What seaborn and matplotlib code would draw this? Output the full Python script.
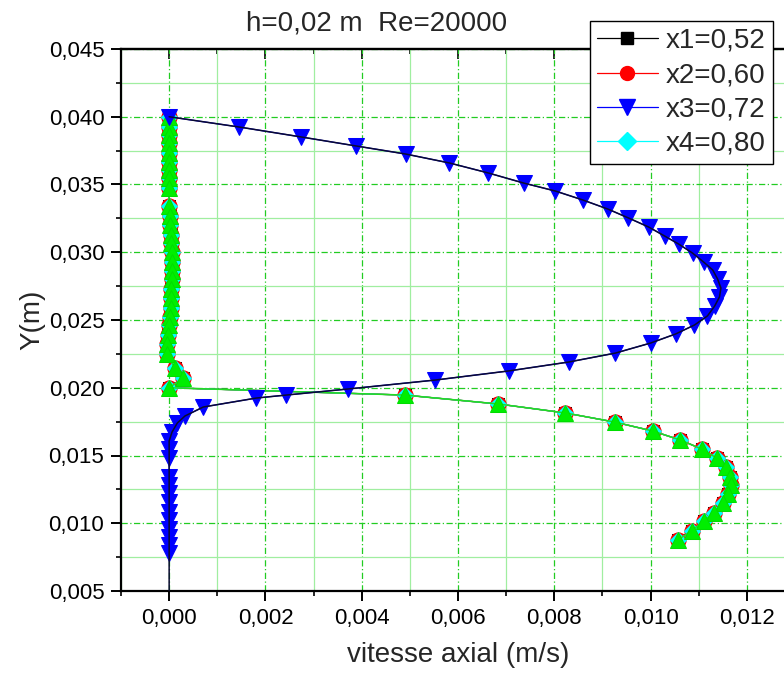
import numpy as np
import pandas as pd
import matplotlib
matplotlib.use("Agg")
import matplotlib.pyplot as plt
from matplotlib.ticker import MultipleLocator, FuncFormatter
from matplotlib.lines import Line2D
import seaborn as sns

# ---------------- data ----------------
# profile shared by x1, x2, x4 and the green series (they overlap)
prof_v = [0.0, 0.0, 0.0, 0.0, 0.0, 0.0, 0.0, 0.0, 0.0,
          0.0, 0.00001, 0.00002, 0.00003, 0.00004, 0.00005, 0.00005, 0.00005, 0.00005,
          0.00004, 0.00004, 0.00003, 0.00002, 0.0, -0.00002, -0.00004, -0.00005,
          0.000125, 0.000285, 0.0,
          0.00489, 0.00684, 0.00823, 0.00925, 0.01004, 0.01062, 0.01106, 0.01137,
          0.01156, 0.01164, 0.01166, 0.0116, 0.0115, 0.01131, 0.0111, 0.01085, 0.01056]
prof_y = [0.0400, 0.03927, 0.03865, 0.03804, 0.03735, 0.03668, 0.03607, 0.03546, 0.03472,
          0.0334, 0.0327, 0.0320, 0.0313, 0.0307, 0.0300, 0.0293, 0.0286, 0.0280,
          0.0273, 0.0266, 0.0259, 0.0252, 0.0246, 0.0239, 0.0232, 0.0225,
          0.02143, 0.0207, 0.0200,
          0.01946, 0.0188, 0.01814, 0.01747, 0.01681, 0.01614, 0.01548, 0.01482,
          0.01415, 0.01341, 0.01282, 0.01216, 0.01149, 0.01076, 0.01017, 0.00943, 0.00876]

x3_v = [0.0, 0.00146, 0.00274, 0.00389, 0.00491, 0.00582, 0.00663, 0.00736, 0.00802,
        0.00859, 0.00911, 0.00954, 0.00996, 0.01029, 0.01058, 0.01087, 0.0111, 0.01129,
        0.01139, 0.01146, 0.01143, 0.01133, 0.01118, 0.01091, 0.01052, 0.0100, 0.00927,
        0.0083, 0.00705, 0.00553, 0.00372, 0.00243, 0.00181, 0.00071, 0.00033, 0.00017,
        0.00006, 0.0, 0.0, 0.0, 0.0, 0.0, 0.0, 0.0, 0.0, 0.0, 0.0, 0.0, 0.0, 0.0]
x3_y = [0.0400, 0.03924, 0.03851, 0.03784, 0.03725, 0.03659, 0.03585, 0.03511, 0.03452,
        0.03386, 0.03319, 0.03253, 0.03186, 0.0312, 0.03061, 0.02994, 0.02928, 0.02869,
        0.02803, 0.02736, 0.0267, 0.02603, 0.0253, 0.02463, 0.02397, 0.0233, 0.02256,
        0.0219, 0.02124, 0.02057, 0.01991, 0.01946, 0.01924, 0.01858, 0.01792, 0.0174,
        0.01673, 0.01607, 0.01548, 0.01482, 0.01341, 0.01282, 0.01223, 0.01157, 0.01083,
        0.01024, 0.00958, 0.00899, 0.0084, 0.0078]
# black curve drawn through x3, down to the axis bottom
x3_curve_end_v = [0.0]
x3_curve_end_y = [0.005]

labels = ["x1=0,52", "x2=0,60", "x3=0,72", "x4=0,80"]

# ---------------- figure ----------------
sns.set_theme(style="white")
plt.rcParams["font.family"] = ["Liberation Sans", "DejaVu Sans"]

W, H = 784, 675
fig = plt.figure(figsize=(W / 100, H / 100), dpi=100)
ax = fig.add_axes([121 / W, 1 - 591 / H, 1 - 121 / W, (591 - 49) / H])

prof = pd.DataFrame({"v": prof_v, "Y": prof_y})
blue = pd.DataFrame({"v": x3_v, "Y": x3_y})
curve = pd.DataFrame({"v": x3_v + x3_curve_end_v, "Y": x3_y + x3_curve_end_y})

common = dict(x="v", y="Y", sort=False, estimator=None, ax=ax, legend=False)
sns.lineplot(data=prof, color="black", lw=0.9, marker="s", markersize=9,
             markeredgecolor="black", zorder=3, **common)
sns.lineplot(data=prof, color="red", lw=0.9, marker="o", markersize=11,
             markeredgecolor="red", zorder=4, **common)
sns.lineplot(data=prof, color="cyan", lw=0.9, marker="D", markersize=8,
             markeredgecolor="cyan", zorder=5, **common)
sns.lineplot(data=prof, color="#22dd22", lw=1.1, marker="^", markersize=12,
             markeredgecolor="#00dd00", markerfacecolor="#00ee00", zorder=6, **common)
sns.lineplot(data=blue, color="blue", lw=0.9, marker="v", markersize=12,
             markeredgecolor="blue", markerfacecolor="blue", zorder=7, **common)
sns.lineplot(data=curve, color="#0a0a30", lw=1.1, zorder=8, **common)

ax.set_xlim(-0.001, 0.01277)
ax.set_ylim(0.005, 0.045)
ax.set_xlabel("")
ax.set_ylabel("")

fmt3 = FuncFormatter(lambda v, p: f"{v:.3f}".replace(".", ","))
ax.xaxis.set_major_locator(MultipleLocator(0.002))
ax.xaxis.set_minor_locator(MultipleLocator(0.001))
ax.yaxis.set_major_locator(MultipleLocator(0.005))
ax.yaxis.set_minor_locator(MultipleLocator(0.0025))
ax.xaxis.set_major_formatter(fmt3)
ax.yaxis.set_major_formatter(fmt3)

ax.grid(True, which="major", color="#22cc22", ls=(0, (5, 2, 1, 2)), lw=0.9)
ax.grid(True, which="minor", color="#a0eea0", ls="-", lw=0.9)
ax.set_axisbelow(True)

for s in ["left", "bottom", "top"]:
    ax.spines[s].set_visible(True)
    ax.spines[s].set_color("black")
    ax.spines[s].set_linewidth(1.6)
ax.spines["right"].set_visible(False)

ax.tick_params(axis="both", which="major", direction="out", length=7, width=1.4,
               labelsize=16, colors="black", pad=5)
ax.tick_params(axis="both", which="minor", direction="out", length=3.5, width=1.4)
ax.tick_params(axis="x", which="both", bottom=True, top=False)
ax.tick_params(axis="y", which="both", left=True, right=False)

top = ax.secondary_xaxis("top")
top.xaxis.set_major_locator(MultipleLocator(0.002))
top.xaxis.set_minor_locator(MultipleLocator(0.001))
top.tick_params(axis="x", which="major", direction="in", length=7, width=1.4, labeltop=False)
top.tick_params(axis="x", which="minor", direction="in", length=3.5, width=1.4)
top.spines["top"].set_linewidth(1.6)

fig.text(377 / W, 1 - 24 / H, "h=0,02 m  Re=20000", ha="center", va="center", fontsize=20)
fig.text(458 / W, 1 - 655 / H, "vitesse axial (m/s)", ha="center", va="center", fontsize=20)
fig.text(32 / W, 1 - 320 / H, "Y(m)", ha="center", va="center", rotation=90, fontsize=20)

handles = [
    Line2D([], [], color="black", lw=0.9, marker="s", markersize=8),
    Line2D([], [], color="red", lw=0.9, marker="o", markersize=10),
    Line2D([], [], color="blue", lw=0.9, marker="v", markersize=11),
    Line2D([], [], color="cyan", lw=0.9, marker="D", markersize=9),
]
leg = fig.legend(handles, labels, loc="upper right", bbox_to_anchor=(773 / W, 1 - 21 / H),
                 fontsize=20, frameon=True, fancybox=False, shadow=False,
                 handlelength=2.2, handletextpad=0.3, borderpad=0.25, labelspacing=0.3,
                 borderaxespad=0)
leg.get_frame().set_edgecolor("black")
leg.get_frame().set_linewidth(1.0)
leg.get_frame().set_facecolor("white")
leg.get_frame().set_alpha(1)

fig.savefig("out.png", dpi=100)
